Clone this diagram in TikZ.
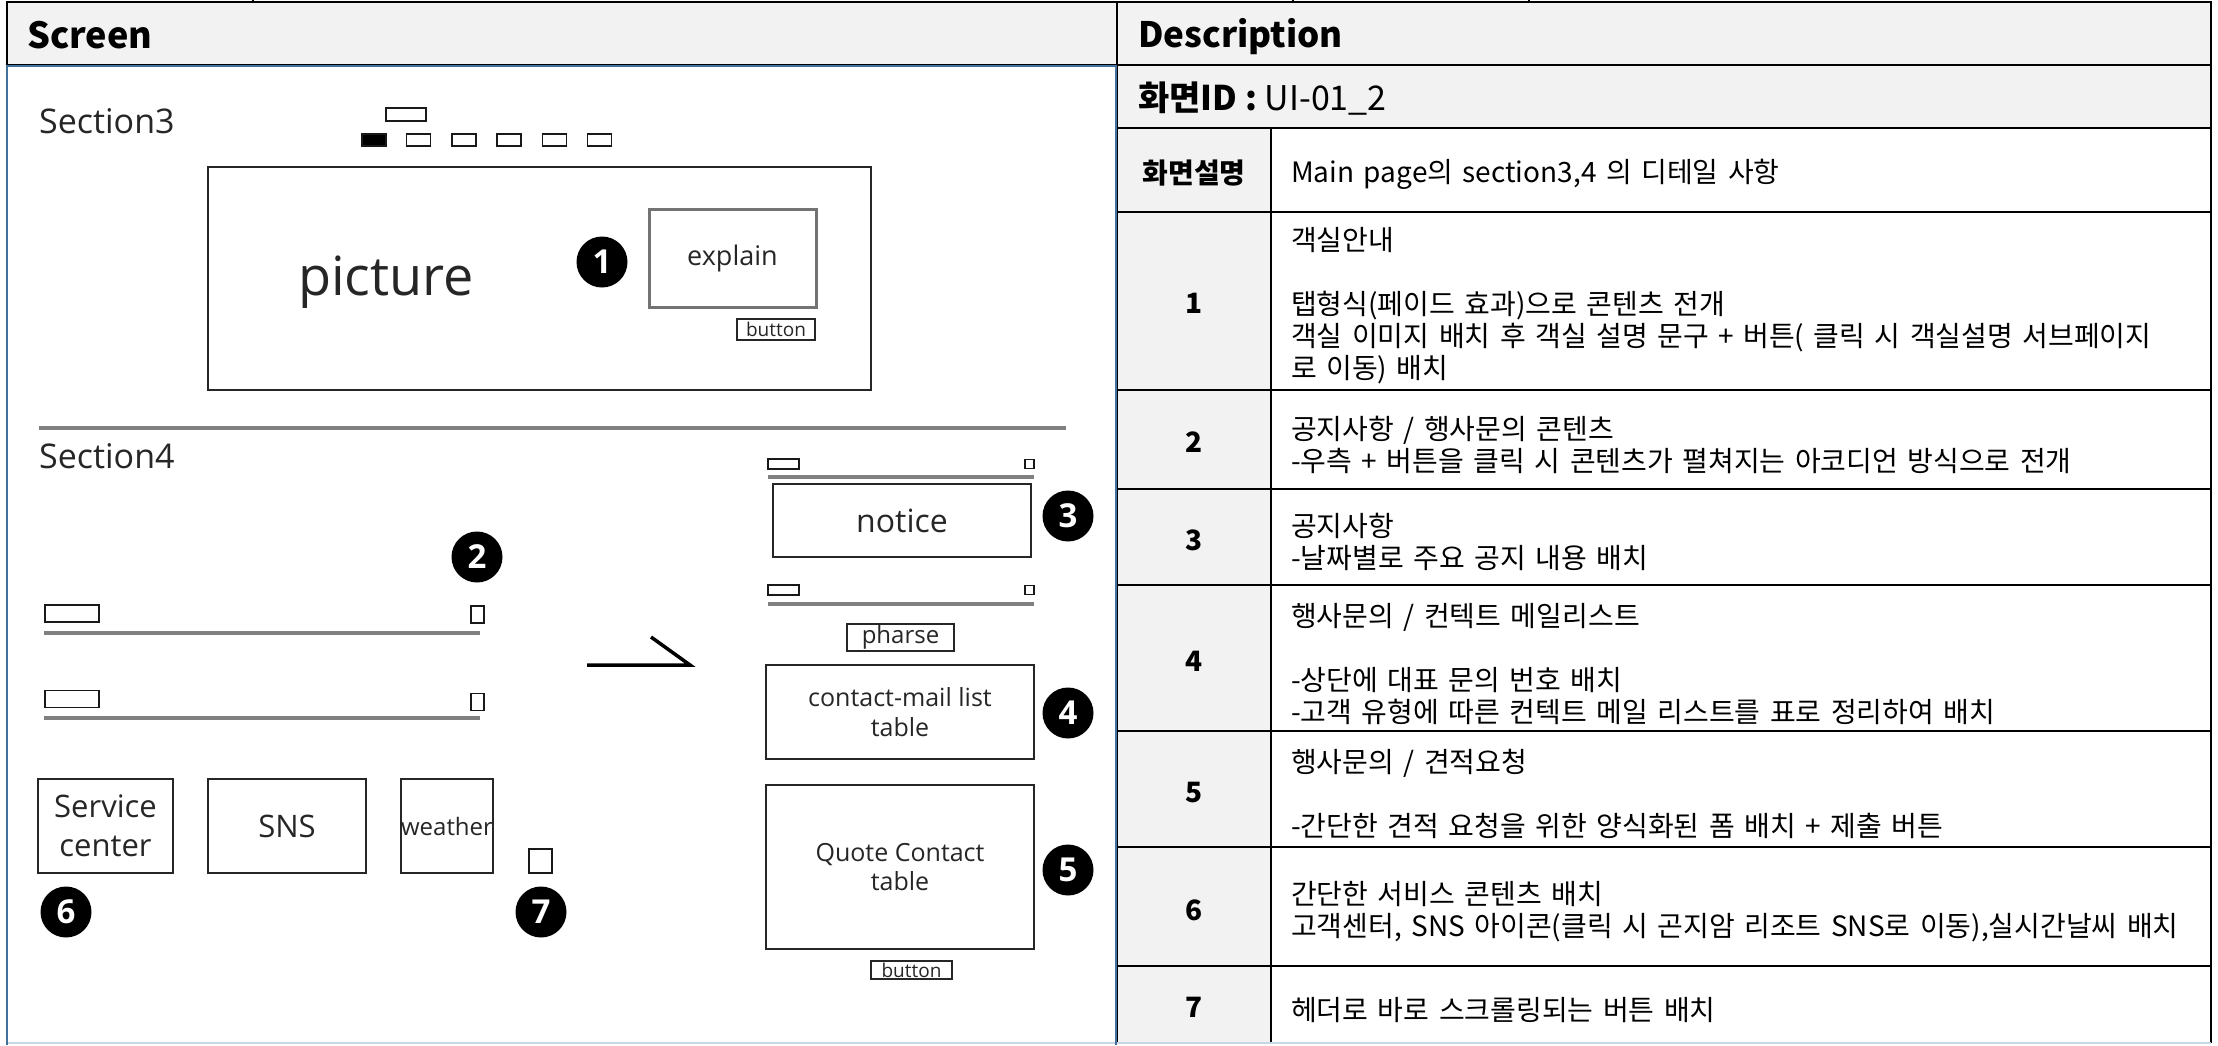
\documentclass[tikz,border=0pt]{standalone}
\usepackage{fontspec}
\setmainfont{Open Sans}
\newfontfamily\kr{Noto Sans CJK KR}
\newcommand\krbodyfont{\kr\fontsize{28}{32}\selectfont\spaceskip 9.5pt\relax}
\definecolor{hdr}{HTML}{F2F2F2}
\definecolor{frameblue}{HTML}{41719C}
\definecolor{lightline}{HTML}{C9D6E6}
\begin{document}
\begin{tikzpicture}[x=1pt,y=-1pt,
  cell/.style={draw=black, line width=2.5pt},
  box/.style={draw=black!85, line width=2pt, inner sep=0pt, align=center, text=black!85},
  mini/.style={draw=black!90, line width=1.6pt, inner sep=0pt},
  gline/.style={draw=black!50, line width=3.5pt},
  num/.style={circle, fill=black, text=white, minimum size=51pt, inner sep=0pt, font=\fontsize{33}{33}\selectfont\bfseries},
  body/.style={font=\krbodyfont, align=left, anchor=west, inner sep=0pt},
  numtxt/.style={font=\kr\bfseries\fontsize{28}{32}\selectfont, inner sep=0pt},
  mock/.style={text=black!85, inner sep=0pt},
]
\useasboundingbox (0,0) rectangle (2218,1045);
\fill[white] (0,0) rectangle (2218,1045);

% ---------- headers ----------
\draw[cell, fill=hdr] (7,2) rectangle (1117,65);
\draw[cell, fill=hdr] (1117,2) rectangle (2211,65);
\draw[cell, fill=hdr] (1117,65) rectangle (2211,128);
\foreach \a/\b in {128/212,212/390,390/489,489/585,585/731,731/847,847/966}{
  \draw[cell, fill=hdr] (1117,\a) rectangle (1271,\b);
  \draw[cell] (1271,\a) rectangle (2211,\b);
}
\fill[hdr] (1117,966) rectangle (1271,1043);
\draw[cell] (1117,1043) -- (1117,966) -- (2211,966) -- (2211,1043);
\draw[cell] (1271,966) -- (1271,1043);
\draw[lightline, line width=2pt] (7,1043) -- (2211,1043);
\foreach \x in {253,1293,1529}{\draw[line width=1.5pt] (\x,0) -- (\x,3);}

% screen frame
\draw[frameblue, line width=2.5pt] (7,1045) -- (7,66) -- (1116,66) -- (1116,1045);

\node[anchor=base west, inner sep=0pt, font=\kr\bfseries\fontsize{36}{40}\selectfont] (scrhdr) at (27,48) {Screen};
\node[anchor=base west, inner sep=0pt, font=\kr\bfseries\fontsize{35}{40}\selectfont] (deschdr) at (1138,47) {Description};
\node[anchor=base west, inner sep=0pt, font=\kr\fontsize{34}{40}\selectfont] (scrid) at (1138,110) {{\bfseries 화면ID :} UI-01\_2};

% ---------- description rows ----------
\node[numtxt] (lbl0) at (1194,173) {화면설명};
\node[body] (txt0) at (1291,174) {Main page의 section3,4 의 디테일 사항};
\node[numtxt] (lbl1) at (1194,303) {1};
\node[body] (txt1) at (1291,306) {객실안내\\[32pt]탭형식(페이드 효과)으로 콘텐츠 전개\\객실 이미지 배치 후 객실 설명 문구 + 버튼( 클릭 시 객실설명 서브페이지\\로 이동) 배치};
\node[numtxt] (lbl2) at (1194,442) {2};
\node[body] (txt2) at (1291,445) {공지사항 / 행사문의 콘텐츠\\-우측 + 버튼을 클릭 시 콘텐츠가 펼쳐지는 아코디언 방식으로 전개};
\node[numtxt] (lbl3) at (1194,540) {3};
\node[body] (txt3) at (1291,541.5) {공지사항\\-날짜별로 주요 공지 내용 배치};
\node[numtxt] (lbl4) at (1194,661) {4};
\node[body] (txt4) at (1291,664) {행사문의 / 컨텍트 메일리스트\\[32pt]-상단에 대표 문의 번호 배치\\-고객 유형에 따른 컨텍트 메일 리스트를 표로 정리하여 배치};
\node[numtxt] (lbl5) at (1194,793) {5};
\node[body] (txt5) at (1291,794) {행사문의 / 견적요청\\[32pt]-간단한 견적 요청을 위한 양식화된 폼 배치 + 제출 버튼};
\node[numtxt] (lbl6) at (1194,910) {6};
\node[body] (txt6) at (1291,912) {간단한 서비스 콘텐츠 배치\\고객센터, SNS 아이콘(클릭 시 곤지암 리조트 SNS로 이동),실시간날씨 배치};
\node[numtxt] (lbl7) at (1194,1007) {7};
\node[body] (txt7) at (1291,1010) {헤더로 바로 스크롤링되는 버튼 배치};

% ---------- Section 3 mockup ----------
\node[mock, anchor=base west, font=\fontsize{34}{40}\selectfont] (s3) at (39,133) {Section3};
\node[mini, minimum width=40pt, minimum height=13pt] (tabbar) at (406,114.5) {};
\node[mini, fill=black, minimum width=24pt, minimum height=12pt] (tab1) at (374,140) {};
\foreach \i/\x in {2/418.5,3/464,4/509,5/554.5,6/599.5}{
  \node[mini, minimum width=24pt, minimum height=12pt] (tab\i) at (\x,140) {};
}
\node[box, minimum width=663pt, minimum height=223pt] (picbox) at (539.5,278.5) {};
\node[mock, anchor=base, font=\fontsize{54}{60}\selectfont] (pictxt) at (386,295) {picture};
\node[num] (n1) at (602,262) {1};
\node[box, draw=black!55, line width=3pt, minimum width=167pt, minimum height=98pt, font=\fontsize{27}{30}\selectfont] (explain) at (732.5,258) {explain};
\node[box, line width=1.6pt, minimum width=78pt, minimum height=21pt, font=\fontsize{19}{19}\selectfont] (btn1) at (776,329.5) {button};

% separator
\coordinate (sepL) at (39,428);
\coordinate (sepR) at (1066,428);
\draw[gline] (sepL) -- (sepR);

% ---------- Section 4 mockup ----------
\node[mock, anchor=base west, font=\fontsize{34}{40}\selectfont] (s4) at (39,468) {Section4};
\node[num] (n2) at (477,557) {2};

\node[mini, minimum width=54pt, minimum height=17pt] (acc1a) at (72,613.5) {};
\node[mini, minimum width=13pt, minimum height=17pt] (acc1b) at (477.5,614.5) {};
\coordinate (acc1l) at (44,633); \coordinate (acc1r) at (480,633);
\draw[gline] (acc1l) -- (acc1r);
\node[mini, minimum width=54pt, minimum height=17pt] (acc2a) at (72,699) {};
\node[mini, minimum width=13pt, minimum height=17pt] (acc2b) at (477.5,702) {};
\coordinate (acc2l) at (44,718); \coordinate (acc2r) at (480,718);
\draw[gline] (acc2l) -- (acc2r);

\coordinate (arA) at (587,665); \coordinate (arB) at (690,665); \coordinate (arC) at (651,637);
\draw[line width=3.5pt, line join=miter] (arA) -- (arB) -- (arC);

\node[box, minimum width=135pt, minimum height=94pt, font=\fontsize{31}{39}\selectfont] (svc) at (105.5,826) {Service\\center};
\node[box, minimum width=158pt, minimum height=94pt, font=\fontsize{31}{39}\selectfont] (sns) at (287,826) {SNS};
\node[box, minimum width=92pt, minimum height=94pt, font=\fontsize{24}{30}\selectfont] (wth) at (447,826) {weather};
\node[mini, minimum width=23pt, minimum height=24pt] (top7) at (540.5,861) {};
\node[num] (n6) at (66,912) {6};
\node[num] (n7) at (541,912) {7};

% right column
\node[mini, minimum width=31pt, minimum height=10pt] (r1a) at (783.5,464) {};
\node[mini, minimum width=9pt, minimum height=9pt] (r1b) at (1029.5,464) {};
\coordinate (r1l) at (768,477); \coordinate (r1r) at (1034,477);
\draw[gline] (r1l) -- (r1r);
\node[box, minimum width=258pt, minimum height=73pt, font=\fontsize{32}{36}\selectfont] (notice) at (902,520.5) {notice};
\node[num] (n3) at (1068,516) {3};
\node[mini, minimum width=31pt, minimum height=10pt] (r2a) at (783.5,590) {};
\node[mini, minimum width=9pt, minimum height=9pt] (r2b) at (1029.5,590) {};
\coordinate (r2l) at (768,604); \coordinate (r2r) at (1034,604);
\draw[gline] (r2l) -- (r2r);
\node[box, line width=1.6pt, minimum width=107pt, minimum height=27pt, font=\fontsize{24}{24}\selectfont] (pharse) at (900.5,637.5) {pharse};
\node[box, minimum width=268pt, minimum height=94pt, font=\fontsize{25}{30}\selectfont] (contact) at (900,712) {contact-mail list\\table};
\node[num] (n4) at (1068,713) {4};
\node[box, minimum width=268pt, minimum height=164pt, font=\fontsize{25}{29}\selectfont] (quote) at (900,867) {Quote Contact\\table};
\node[num] (n5) at (1068,870) {5};
\node[box, line width=1.6pt, minimum width=81pt, minimum height=18pt, font=\fontsize{19}{19}\selectfont] (btn2) at (911.5,970) {button};
\end{tikzpicture}
\end{document}
